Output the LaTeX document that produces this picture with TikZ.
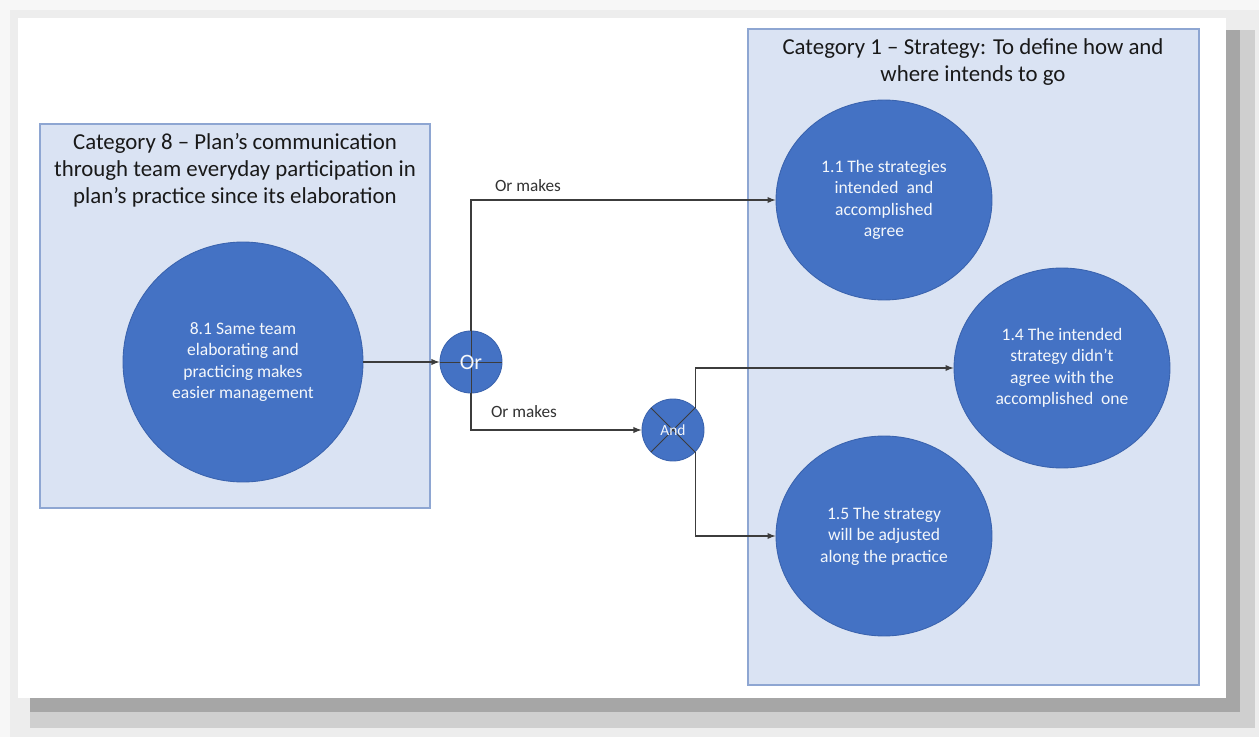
\documentclass[tikz,border=0pt]{standalone}
\usepackage{fontspec}
\setmainfont{Carlito}
\usetikzlibrary{shapes, arrows, positioning, calc}

\definecolor{catfill}{HTML}{DAE3F3}
\definecolor{catline}{HTML}{8EA6D2}
\definecolor{bubble}{HTML}{4472C4}
\definecolor{bubbleline}{HTML}{3A63AE}
\definecolor{conncol}{HTML}{3C3C3C}

\tikzstyle{catbox} = [rectangle, draw=catline, line width=1.1pt, fill=catfill, inner sep=0pt]
\tikzstyle{cattitle} = [align=center, text=black!90, font=\fontsize{13}{15.3}\selectfont]
\tikzstyle{bubbletext} = [align=center, text=white!94!bubble, font=\fontsize{10}{12.2}\selectfont, inner sep=0pt]
\tikzstyle{roundbubble} = [circle, draw=bubbleline, line width=0.5pt, fill=bubble, bubbletext]
\tikzstyle{ovalbubble} = [ellipse, draw=bubbleline, line width=0.5pt, fill=bubble, bubbletext, minimum width=4.32cm, minimum height=4cm]
\tikzstyle{gate} = [circle, draw=bubbleline, line width=0.5pt, fill=bubble, minimum size=1.24cm, inner sep=0pt, text=white!94!bubble]
\tikzstyle{conn} = [draw=conncol, line width=0.6pt, -latex]
\tikzstyle{lbl} = [text=black!80, font=\fontsize{9.8}{11}\selectfont]

\begin{document}
\begin{tikzpicture}[x=0.02cm, y=-0.02cm]
        % page and shadow
        \fill[black!3] (0,0) rectangle (1259,737);
        \fill[black!7] (10,10) rectangle (1259,737);
        \fill[black!19] (30,30) rectangle (1255,728);
        \fill[black!35] (30,30) rectangle (1240,712);
        \fill[white] (18,18) rectangle (1226,698);
        \useasboundingbox (0,0) rectangle (1259,737);

        % Categories
        \node[catbox, minimum width=7.8cm, minimum height=7.68cm] (cat8) at (235,316) {};
        \node[cattitle] (t8) at (235,170) {Category 8 -- Plan’s communication\\through team everyday participation in\\plan’s practice since its elaboration};
        \node[catbox, minimum width=9.02cm, minimum height=13.12cm] (cat1) at (973.5,357) {};
        \node[cattitle] (t1) at (973,62) {Category 1 -- Strategy: To define how and\\where intends to go};

        % Bubbles
        \node[roundbubble, minimum size=4.8cm] (c81) at (243,362) {8.1 Same team\\elaborating and\\practicing makes\\easier management};
        \node[ovalbubble] (c11) at (884,200) {1.1 The strategies\\intended \ and\\accomplished\\agree};
        \node[ovalbubble] (c14) at (1062,368) {1.4 The intended\\strategy didn’t\\agree with the\\accomplished \ one};
        \node[ovalbubble] (c15) at (884,536) {1.5 The strategy\\will be adjusted\\along the practice};

        % Gates
        \node[gate] (orgate) at (471,362) {};
        \draw[conncol, line width=0.5pt] (orgate.north) -- (orgate.south) (orgate.west) -- (orgate.east);
        \node[font=\fontsize{12.5}{14}\selectfont, text=white!94!bubble] (ortext) at (orgate) {Or};
        \node[gate] (andgate) at (673,430) {};
        \draw[conncol, line width=0.5pt] (andgate.north west) -- (andgate.south east) (andgate.north east) -- (andgate.south west);
        \node[font=\fontsize{8.8}{10}\selectfont, text=white!94!bubble] (andtext) at (andgate) {And};

        % Connectors
        \draw[conn] (c81.east) -- (orgate.west);
        \draw[conn] (orgate.north) |- (c11.west);
        \draw[conn] (orgate.south) |- (andgate.west);
        \draw[conn] (andgate.45) |- (c14.west);
        \draw[conn] (andgate.-45) |- (c15.west);
        \node[lbl] (mk1) at (528,186) {Or makes};
        \node[lbl] (mk2) at (524,412) {Or makes};

    \end{tikzpicture}
\end{document}
